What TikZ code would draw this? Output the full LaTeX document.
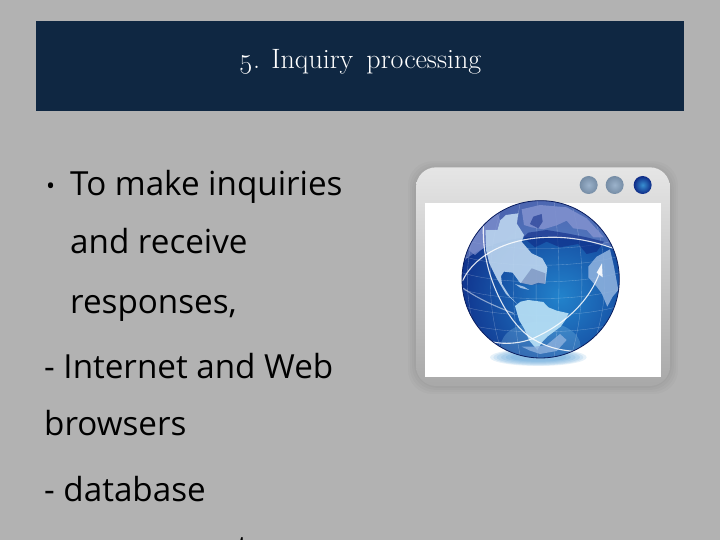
\documentclass[tikz,border=0pt]{standalone}
\usepackage{fontspec}
\setmainfont{Open Sans}
\newfontfamily\titlefont[Numbers=OldStyle]{Latin Modern Roman}
\definecolor{slidebg}{HTML}{B2B2B2}
\definecolor{banner}{HTML}{0F2742}
\definecolor{land}{HTML}{BBD4EE}
\definecolor{landsouth}{HTML}{B4DDF4}
\definecolor{landeast}{HTML}{8FB2DE}
\definecolor{landtop}{HTML}{7F90CE}
\definecolor{deep}{HTML}{0E2A86}
\definecolor{mid}{HTML}{2283CC}
\definecolor{btn}{HTML}{8AA5C2}
\tikzset{
  body/.style={anchor=base west,inner sep=0pt,font=\fontsize{33.2}{33.2}\selectfont,text=black},
  arcline/.style={draw=white,line width=1.1pt,opacity=.85,line cap=round},
  gridline/.style={draw=white,line width=.35pt,opacity=.3},
  landpart/.style={fill=land,opacity=.92},
}
\begin{document}
\begin{tikzpicture}[x=1pt,y=1pt]
\useasboundingbox (0,0) rectangle (720,-540);
\clip (0,0) rectangle (720,-540);
\fill[slidebg] (0,0) rectangle (720,-540);
\fill[banner] (36,-21) rectangle (684,-111);
\node[anchor=base,inner sep=0pt,text=white,font=\titlefont\fontsize{28}{28}\selectfont] (title) at (360,-69) {5. Inquiry\, processing};
\node[body,font=\fontsize{24}{24}\selectfont] (bullet) at (46,-195) {•};
\node[body] (l1) at (70,-196) {To make inquiries};
\node[body] (l2) at (70,-254) {and receive};
\node[body] (l3) at (70,-313) {responses,};
\node[body] (l4) at (44,-378) {- Internet and Web};
\node[body] (l5) at (44,-435) {browsers};
\node[body] (l6) at (44,-501) {- database};
\node[body] (l7) at (42,-559.5) {management};
% window and globe, in crop coordinates
\begin{scope}[shift={(400,-150)},x=.3333pt,y=-.3333pt]
  \foreach \g in {24,18,12,6}
    \fill[black,opacity=.02,rounded corners=24] (48-\g,52-\g+6) rectangle (810+\g,708+\g);
  \shade[top color=white!90!black,middle color=white!80!black,bottom color=white!66!black,rounded corners=20] (48,52) rectangle (810,708);
  \fill[white] (76,160) rectangle (782,682);
  \foreach \r/\h in {145/26,135/24,125/22,112/19,98/16,84/13}
    \fill[mid,opacity=.11] (415,622) ellipse ({\r} and {\h});
  % buttons
  \foreach \cx/\n in {566/a,644/b}
    \shade[inner color=btn!85!white,outer color=btn!85!black] (\cx,105) circle (27) node (btn\n) {};
  \shade[inner color=mid!90!white,outer color=deep] (728,105) circle (27);
  % globe
  \begin{scope}
    \clip (422,388) circle (236);
    \shade[inner color=mid,outer color=deep] (480,440) circle (340);
    \fill[landtop,opacity=.55] (180,345) .. controls (240,275) and (420,220) .. (650,295) -- (660,100) -- (180,100) -- cycle;
    \fill[cyan!35!white,opacity=.22] (422,590) ellipse (120 and 75);
    % grid
    \foreach \k in {-160,-110,-60,-10,40,90,140}
      \draw[gridline] (422+\k,152) .. controls (422+1.5*\k,300) and (422+1.5*\k,480) .. (422+\k,624);
    \foreach \k in {-120,-70,-20,30,80,130}
      \draw[gridline] (186,388+\k) .. controls (300,425+\k) and (540,425+\k) .. (658,388+\k);
    % land
    \fill[landtop,opacity=.9] (365,178) -- (420,165) -- (500,172) -- (560,205) -- (612,262) -- (580,262) -- (560,240) -- (520,235) -- (500,212) -- (470,226) -- (430,238) -- (395,232) -- (372,225) -- cycle;
    \fill[deep,opacity=.55] (390,222) -- (400,200) -- (425,192) -- (428,215) -- (415,235) -- cycle;
    \fill[deep,opacity=.6] (370,262) -- (385,248) -- (440,240) -- (500,250) -- (560,262) -- (612,275) -- (590,305) -- (560,312) -- (535,282) -- (480,292) -- (440,275) -- (405,292) -- cycle;
    \fill[landpart] (300,212) -- (318,195) -- (355,190) -- (350,220) -- (372,255) -- (365,275) -- (395,310) -- (427,325) -- (442,352) -- (436,402) -- (415,398) -- (395,405) -- (360,398) -- (338,368) -- (312,365) -- (303,378) -- (306,402) -- (330,440) -- (352,462) -- (318,432) -- (290,385) -- (268,340) -- (258,300) -- (256,240) -- (292,240) -- cycle;
    \fill[slidebg!30!deep,opacity=.35] (362,400) -- (395,355) -- (436,370) -- (436,402) -- (396,405) -- cycle;
    \fill[land,opacity=.8] (345,402) -- (372,410) -- (388,420) -- (362,414) -- cycle;
    \fill[landsouth,opacity=.95] (345,468) -- (362,455) -- (385,450) -- (430,456) -- (445,472) -- (470,482) -- (506,490) -- (495,512) -- (482,530) -- (442,560) -- (425,578) -- (412,600) -- (388,572) -- (372,535) -- (358,512) -- cycle;
    \fill[landeast,opacity=.8] (365,590) -- (390,602) -- (420,612) -- (470,603) -- (500,570) -- (480,552) -- (440,585) -- (405,590) -- cycle;
    \fill[landeast,opacity=.88] (565,350) -- (590,320) -- (630,298) -- (642,350) -- (655,420) -- (638,440) -- (622,470) -- (605,430) -- (590,410) -- (565,382) -- cycle;
    \fill[landtop,opacity=.75] (205,300) -- (215,262) -- (255,205) -- (292,180) -- (300,212) -- (292,240) -- (256,240) -- (255,290) -- (225,315) -- cycle;
    % arcs
    \draw[arcline] (188,392) .. controls (240,280) and (430,220) .. (640,295);
    \draw[arcline] (250,230) .. controls (245,370) and (320,520) .. (400,568) .. controls (440,590) and (470,600) .. (530,605);
    \draw[arcline] (240,565) .. controls (290,585) and (350,585) .. (400,565) .. controls (500,520) and (570,450) .. (600,365);
    \draw[arcline,opacity=.5] (190,415) .. controls (240,450) and (290,470) .. (340,490);
    \fill[white,opacity=.9] (606,340) -- (608,382) -- (590,368) -- cycle;
  \end{scope}
  \draw[deep!70!black,line width=.8pt] (422,388) circle (236);
\end{scope}
\end{tikzpicture}
\end{document}
